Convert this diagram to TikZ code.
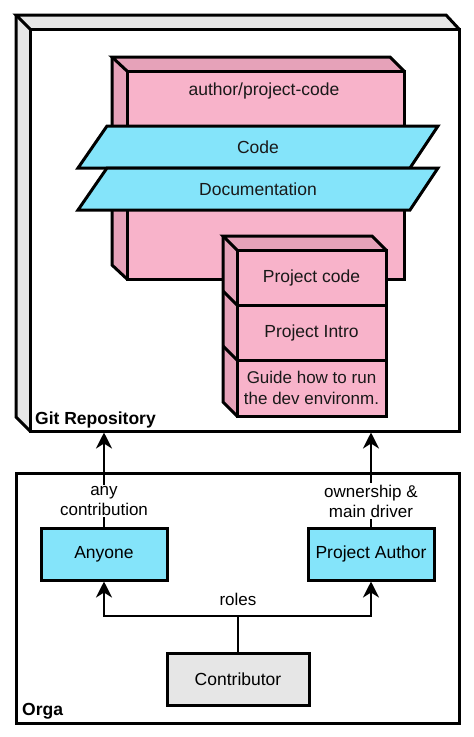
\documentclass[tikz,border=0pt]{standalone}
\usepackage{fontspec}
\setmainfont{Liberation Sans}
\usetikzlibrary{arrows.meta}
\definecolor{pinkf}{HTML}{F8B3CA}
\definecolor{pinks}{HTML}{E6A2B9}
\definecolor{cyanf}{HTML}{84E4FA}
\definecolor{grayf}{HTML}{E6E6E6}
\tikzset{
  edge/.style={line width=3pt, line join=miter},
  txt/.style={font=\fontsize{17.5}{21}\selectfont, text=black!90, align=center, inner sep=1pt},
  bold/.style={font=\fontsize{17.5}{21}\selectfont\bfseries, inner sep=0pt},
  role/.style={draw, line width=3pt, font=\fontsize{17.5}{21}\selectfont, minimum width=126pt, minimum height=52pt, inner sep=0pt},
  arr/.style={line width=2.6pt, -{Stealth[length=16pt,width=16pt,inset=5pt]}},
  lbl/.style={fill=white, font=\fontsize{17}{20}\selectfont, align=center, inner sep=1.5pt},
}
\begin{document}
\begin{tikzpicture}[x=1pt,y=-1pt]
\useasboundingbox (0,0) rectangle (474,737);
% Git repository 3D box
\fill[grayf] (16,15) -- (446,15) -- (459,29) -- (30,29) -- cycle;
\fill[grayf] (16,15) -- (30,29) -- (30,431) -- (16,417) -- cycle;
\node[draw, line width=3pt, fill=white, minimum width=429pt, minimum height=402pt, inner sep=0pt] (git) at (244.5,230) {};
\draw[edge] (30,29) -- (16,15) -- (446,15) -- (459,29);
\draw[edge] (16,15) -- (16,417) -- (30,431);
\node[bold, anchor=west] (gitlbl) at (35,420) {Git Repository};
% author/project-code box
\fill[pinks] (112,57) -- (390,57) -- (404,71) -- (127,71) -- cycle;
\fill[pinks] (112,57) -- (127,71) -- (127,279) -- (112,265) -- cycle;
\draw[edge] (127,71) -- (112,57) -- (390,57) -- (404,71);
\draw[edge] (112,57) -- (112,265) -- (127,279);
\node[draw, line width=3pt, fill=pinkf, minimum width=277pt, minimum height=208pt, inner sep=0pt] (repo) at (265.5,175) {};
\node[txt] (repolbl) at (264,91) {author/project-code};
% Code / Documentation layers
\draw[edge, fill=cyanf] (107,126) -- (438,126) -- (410,168) -- (78,168) -- cycle;
\node[txt] (code) at (258,147) {Code};
\draw[edge, fill=cyanf] (107,168) -- (438,168) -- (410,210) -- (78,210) -- cycle;
\node[txt] (doc) at (258,189) {Documentation};
% stack box
\fill[pinks] (223,236) -- (372,236) -- (386,250) -- (237,250) -- cycle;
\fill[pinks] (223,236) -- (237,250) -- (237,416) -- (223,402) -- cycle;
\draw[edge] (237,250) -- (223,236) -- (372,236) -- (386,250);
\draw[edge] (223,236) -- (223,402) -- (237,416);
\draw[edge] (223,291) -- (237,305);
\draw[edge] (223,346) -- (237,360);
\node[draw, line width=3pt, fill=pinkf, minimum width=149pt, minimum height=55pt, inner sep=0pt] (pcode) at (311.5,277.5) {};
\node[draw, line width=3pt, fill=pinkf, minimum width=149pt, minimum height=55pt, inner sep=0pt] (pintro) at (311.5,332.5) {};
\node[draw, line width=3pt, fill=pinkf, minimum width=149pt, minimum height=56pt, inner sep=0pt] (pguide) at (311.5,388) {};
\node[txt] at (pcode) {Project code};
\node[txt] at (pintro) {Project Intro};
\node[txt, font=\fontsize{17}{20.5}\selectfont] at (pguide) {Guide how to run\\the dev environm.};
% Orga box
\node[draw, line width=3pt, minimum width=443pt, minimum height=250pt, inner sep=0pt] (orga) at (237.5,598) {};
\node[bold, anchor=west] (orgalbl) at (22,711) {Orga};
% roles
\node[role, fill=cyanf] (anyone) at (104,554) {Anyone};
\node[role, fill=cyanf] (author) at (371,554) {Project Author};
\node[role, fill=grayf, minimum width=142pt] (contrib) at (238,679) {Contributor};
% arrows to git
\draw[arr] (anyone.north) -- node[lbl, pos=0.27] {any\\contribution} (anyone.north |- git.south);
\draw[arr] (author.north) -- node[lbl, pos=0.27] {ownership \&\\main driver} (author.north |- git.south);
% roles connector
\coordinate (split) at (238,616);
\draw[line width=2.6pt] (contrib.north) -- (split);
\draw[arr] (split) -| (anyone.south);
\draw[arr] (split) -| (author.south);
\node[lbl, fill=none] (roleslbl) at (238,599) {roles};
\end{tikzpicture}
\end{document}
